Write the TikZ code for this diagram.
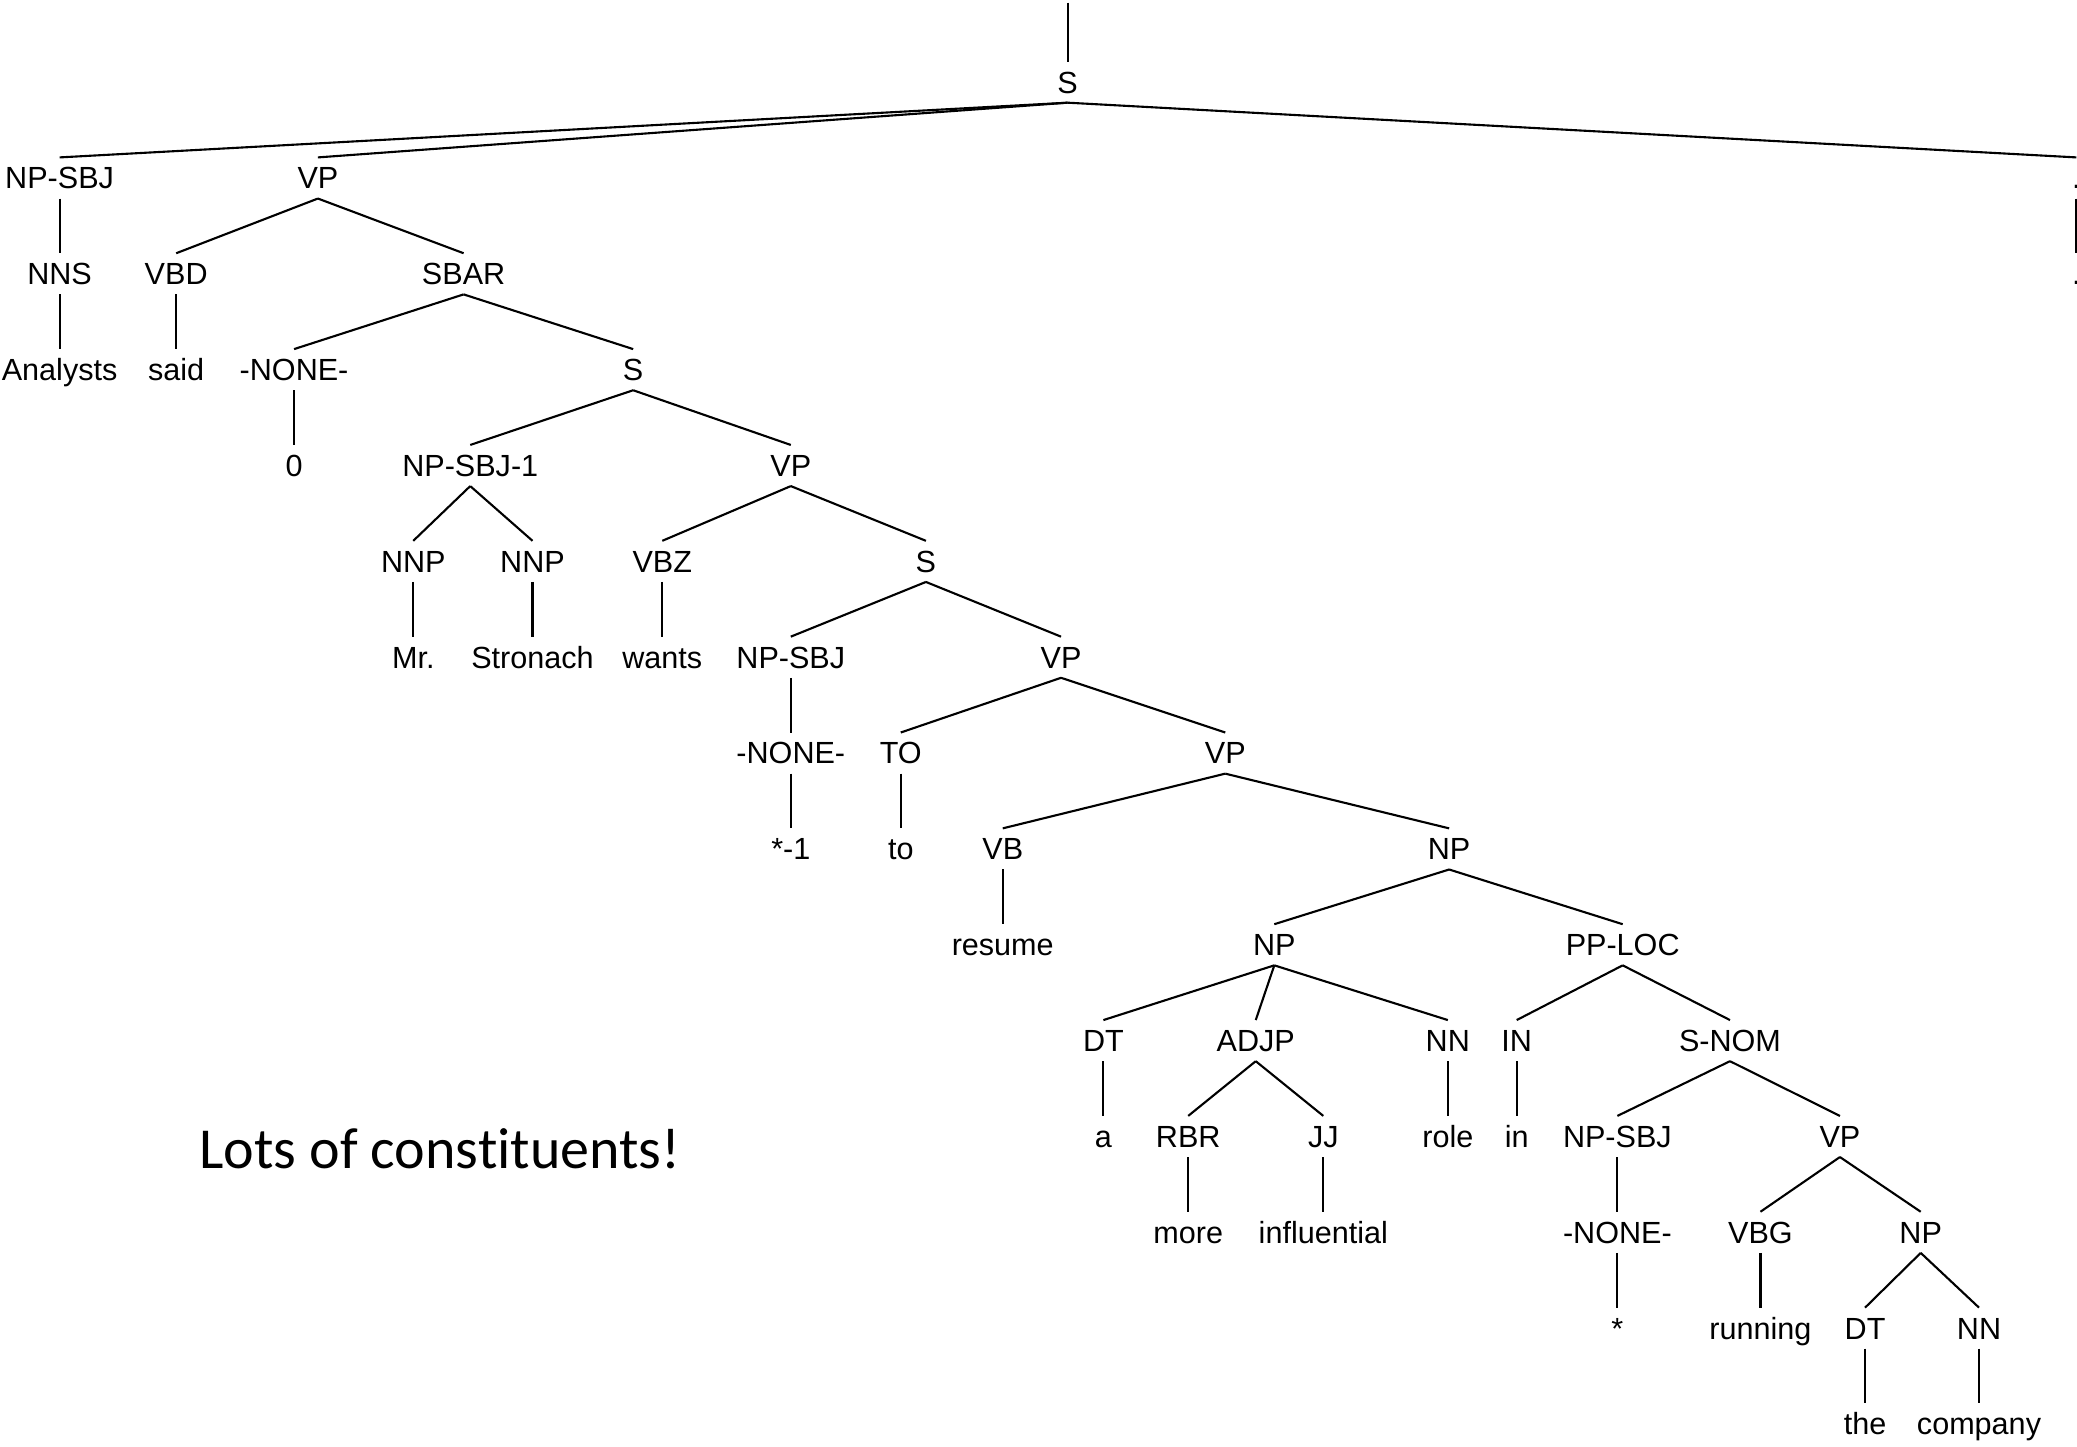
\documentclass[tikz,border=0pt]{standalone}
\usepackage{fontspec}
\usepackage{tikz}
\newfontfamily\treefont{Liberation Sans}
\newfontfamily\notefont[Ligatures={NoCommon,NoRare}]{Carlito}
\tikzstyle{tag} = [inner xsep=1pt, inner ysep=0pt, minimum height=11.3pt, text height=6.2pt, text depth=0pt, font=\treefont\fontsize{8.7}{10}\selectfont]
\tikzstyle{branch} = [line width=0.6pt, black]
\tikzstyle{remark} = [anchor=base west, inner sep=0pt, font=\notefont\fontsize{16.5}{20}\selectfont]

\begin{document}
\begin{tikzpicture}[x=0.013246cm, y=-0.013246cm]
	\useasboundingbox (0,0) rectangle (1568,1092);
	\clip (0,0) rectangle (1568,1092);
	% categories and words, one level every 72.36 units
	\foreach \n/\x/\l/\t in {s0/806/0/S,
		npsbj/45/1/NP-SBJ, vp1/240/1/VP, dot1/1567.5/1/.,
		nns/45/2/NNS, vbd/133/2/VBD, sbar/350/2/SBAR, dot2/1567.5/2/.,
		analysts/45/3/Analysts, said/133/3/said, none1/222/3/-NONE-, s3/478/3/S,
		zero/222/4/0, npsbj1/355/4/NP-SBJ-1, vp4/597/4/VP,
		nnp1/312/5/NNP, nnp2/402/5/NNP, vbz/500/5/VBZ, s5/699/5/S,
		mr/312/6/Mr., stronach/402/6/Stronach, wants/500/6/wants, npsbj6/597/6/NP-SBJ, vp6/801/6/VP,
		none7/597/7/-NONE-, to7/680/7/TO, vp7/925/7/VP,
		trace/597/8/*-1, to8/680/8/to, vb/757/8/VB, np8/1094/8/NP,
		resume/757/9/resume, np9/962/9/NP, pploc/1225/9/PP-LOC,
		dt10/833/10/DT, adjp/948/10/ADJP, nn10/1093/10/NN, in10/1145/10/IN, snom/1306/10/S-NOM,
		a/833/11/a, rbr/897/11/RBR, jj/999/11/JJ, role/1093/11/role, in11/1145/11/in, npsbj11/1221/11/NP-SBJ, vp11/1389/11/VP,
		more/897/12/more, influential/999/12/influential, none12/1221/12/-NONE-, vbg/1329/12/VBG, np12/1450/12/NP,
		star/1221/13/*, running/1329/13/running, dt13/1408/13/DT, nn13/1494/13/NN,
		the/1408/14/the, company/1494/14/company}
		\node[tag] (\n) at (\x, {62+72.36*\l}) {\t};
	\coordinate (top) at (806,2);
	\draw[branch] (top) -- (s0.north);
	\foreach \a/\b in {s0/npsbj, s0/vp1, s0/dot1, dot1/dot2,
		npsbj/nns, nns/analysts, vp1/vbd, vp1/sbar, vbd/said,
		sbar/none1, sbar/s3, none1/zero, s3/npsbj1, s3/vp4,
		npsbj1/nnp1, npsbj1/nnp2, nnp1/mr, nnp2/stronach,
		vp4/vbz, vp4/s5, vbz/wants, s5/npsbj6, s5/vp6,
		npsbj6/none7, none7/trace, vp6/to7, vp6/vp7, to7/to8,
		vp7/vb, vp7/np8, vb/resume, np8/np9, np8/pploc,
		np9/dt10, np9/adjp, np9/nn10, dt10/a, adjp/rbr, adjp/jj, nn10/role,
		rbr/more, jj/influential, pploc/in10, pploc/snom, in10/in11,
		snom/npsbj11, snom/vp11, npsbj11/none12, none12/star,
		vp11/vbg, vp11/np12, vbg/running, np12/dt13, np12/nn13,
		dt13/the, nn13/company}
		\draw[branch] (\a.south) -- (\b.north);
	\node[remark] (note) at (150,882) {Lots of const\kern0pt ituents!};
\end{tikzpicture}
\end{document}
